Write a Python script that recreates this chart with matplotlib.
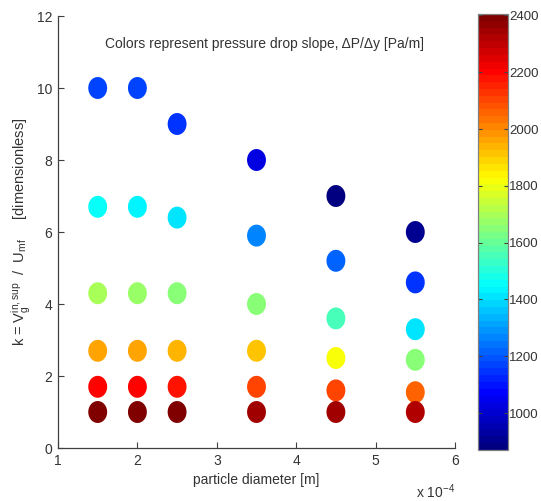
import numpy as np
import matplotlib
matplotlib.use("Agg")
import matplotlib.pyplot as plt
from matplotlib.colors import LinearSegmentedColormap
from matplotlib.path import Path
from matplotlib.ticker import FuncFormatter, MultipleLocator

plt.rcParams['font.family'] = ['Liberation Sans', 'DejaVu Sans']
plt.rcParams['mathtext.default'] = 'regular'

# particle diameter [m] for each run
diameter = [1.5e-4] * 6 + [2.0e-4] * 6 + [2.5e-4] * 6 + [3.5e-4] * 6 + [4.5e-4] * 6 + [5.5e-4] * 6
# superficial gas velocity ratio k
k_ratio = [10.0, 6.7, 4.3, 2.7, 1.7, 1.0,
           10.0, 6.7, 4.3, 2.7, 1.7, 1.0,
           9.0, 6.4, 4.3, 2.7, 1.7, 1.0,
           8.0, 5.9, 4.0, 2.7, 1.7, 1.0,
           7.0, 5.2, 3.6, 2.5, 1.6, 1.0,
           6.0, 4.6, 3.3, 2.45, 1.55, 1.0]
# pressure drop slope dP/dy [Pa/m]
dp_slope = [1162, 1446, 1695, 1971, 2213, 2405,
            1162, 1423, 1664, 1960, 2190, 2400,
            1154, 1420, 1638, 1937, 2167, 2385,
            1016, 1254, 1649, 1906, 2117, 2355,
            870, 1208, 1542, 1829, 2094, 2335,
            895, 1134, 1418, 1649, 2067, 2310]

cbar_ticks = [1000, 1200, 1400, 1600, 1800, 2000, 2200, 2400]

# classic MATLAB jet, 64 levels
jet64 = LinearSegmentedColormap('jet64', {
    'red':   [(0, 0, 0), (3/8, 0, 0), (5/8, 1, 1), (7/8, 1, 1), (1, 0.5, 0.5)],
    'green': [(0, 0, 0), (1/8, 0, 0), (3/8, 1, 1), (5/8, 1, 1), (7/8, 0, 0), (1, 0, 0)],
    'blue':  [(0, 0.5, 0.5), (1/8, 1, 1), (3/8, 1, 1), (5/8, 0, 0), (1, 0, 0)],
}, N=64)

# slightly tall elliptical marker
theta = np.linspace(0, 2 * np.pi, 60)
ellipse = Path(np.column_stack([np.cos(theta) * 0.86, np.sin(theta)]), closed=True)

fig = plt.figure(figsize=(5.41, 5.01), dpi=100)
ax = fig.add_axes([58 / 541, 53 / 501, 397 / 541, 432 / 501])

sc = ax.scatter(diameter, k_ratio, c=dp_slope, cmap=jet64, marker=ellipse,
                s=250, linewidths=0)

ax.set_xlim(1e-4, 6e-4)
ax.set_ylim(0, 12)
ax.xaxis.set_major_locator(MultipleLocator(1e-4))
ax.xaxis.set_major_formatter(FuncFormatter(lambda v, _: f"{v * 1e4:g}"))
ax.yaxis.set_major_locator(MultipleLocator(2))

grey = '#404040'
for side in ('top', 'right'):
    ax.spines[side].set_visible(False)
for side in ('left', 'bottom'):
    ax.spines[side].set_color(grey)
    ax.spines[side].set_linewidth(0.9)
ax.tick_params(direction='in', length=4, width=0.8, colors=grey,
               labelsize=10, labelcolor='#333333', pad=4)

ax.set_xlabel('particle diameter [m]', fontsize=10, color='#333333', labelpad=4)
ax.set_ylabel(r'k = V$_g^{in,sup}$  /  U$_{mf}$     [dimensionless]', fontsize=10.5,
              color='#333333', labelpad=3)
ax.text(1.0, -0.102, r'x 10$^{-4}$', transform=ax.transAxes, fontsize=10,
        color='#333333', ha='right', va='center')
ax.text(0.52, 0.935, 'Colors represent pressure drop slope, ΔP/Δy [Pa/m]',
        transform=ax.transAxes, fontsize=10, color='#333333',
        ha='center', va='center')

cax = fig.add_axes([478 / 541, 51 / 501, 30 / 541, 436 / 501])
cb = fig.colorbar(sc, cax=cax, ticks=cbar_ticks)
cb.outline.set_edgecolor('#808080')
cb.outline.set_linewidth(0.9)
cax.tick_params(direction='in', length=3, width=0.8, colors=grey,
                labelsize=9.5, labelcolor='#333333', right=True, left=True, pad=1)

fig.savefig('out.png', dpi=100)
